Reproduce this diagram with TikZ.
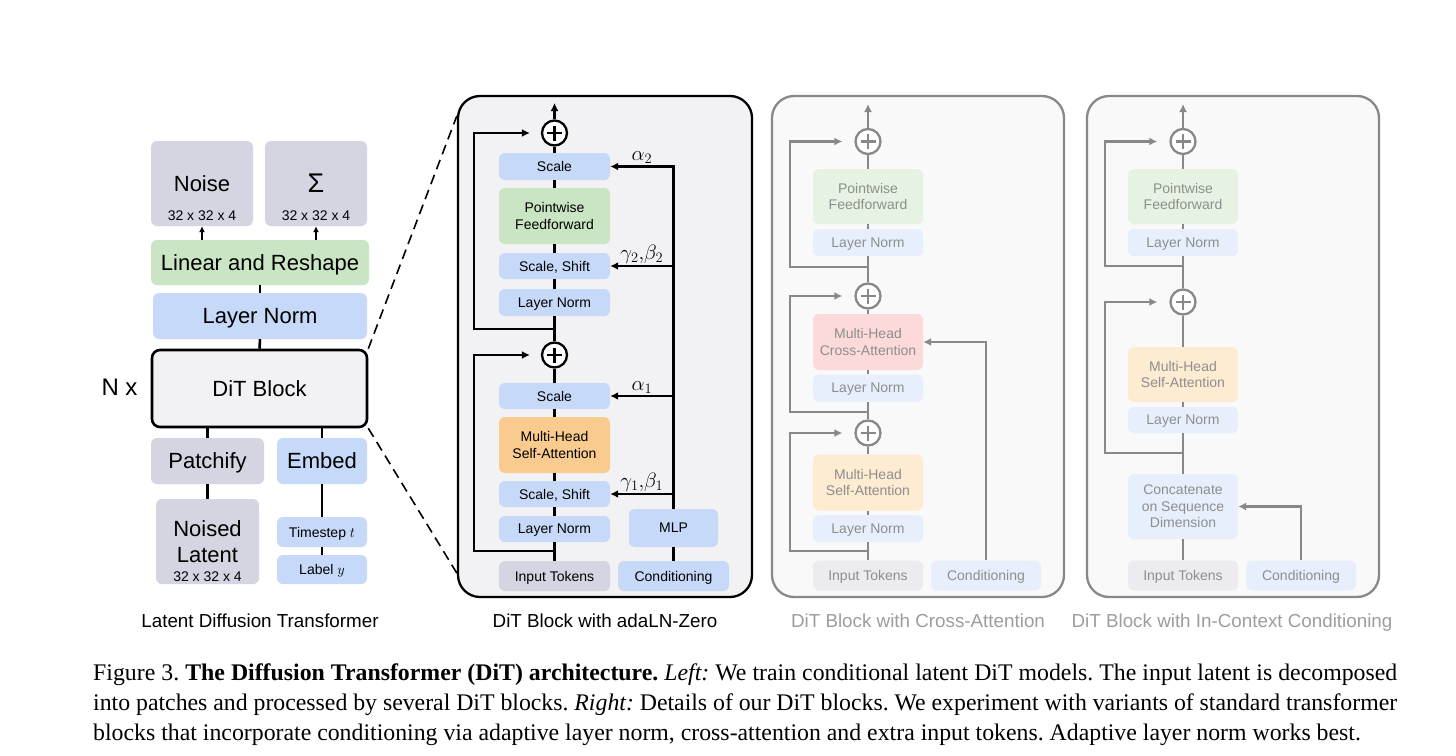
\documentclass[tikz,border=0pt]{standalone}
\usepackage{fontspec}
\usetikzlibrary{arrows.meta,calc}
\newfontfamily\arial{Liberation Sans}
\newfontfamily\capfont{Liberation Serif}

\definecolor{ditblue}{HTML}{C6D9F8}
\definecolor{ditgreen}{HTML}{C9E5C3}
\definecolor{ditgray}{HTML}{D4D5E0}
\definecolor{ditorange}{HTML}{F9CB8F}
\definecolor{panelfill}{HTML}{F2F2F4}
\definecolor{fadeblue}{HTML}{E7EFFC}
\definecolor{fadegreen}{HTML}{E6F3E2}
\definecolor{fadered}{HTML}{FCDADA}
\definecolor{fadeorange}{HTML}{FDEBD2}
\definecolor{fadegray}{HTML}{ECECF0}
\definecolor{fadefill}{HTML}{F9F9F9}
\definecolor{lineg}{HTML}{888888}
\definecolor{textg}{HTML}{8E8E8E}
\definecolor{titleg}{HTML}{9D9D9D}

\tikzset{
  blk/.style 2 args={rounded corners=6pt, inner sep=0pt, align=center,
    minimum width=#1pt, minimum height=#2pt, text depth=0pt,
    font=\arial\fontsize{14}{16.5}\selectfont},
  bigtext/.style={font=\arial\fontsize{22}{26}\selectfont},
  dimtext/.style={font=\arial\fontsize{14}{16}\selectfont, inner sep=0pt},
  faded/.style={text=textg},
  ttl/.style={font=\arial\fontsize{18.8}{22}\selectfont, inner sep=0pt, text depth=0pt},
  gk/.style={font=\fontsize{22}{24}\selectfont, inner sep=1.5pt},
  wire/.style={line width=2.6pt},
  arr/.style={line width=2.6pt, -{Latex[length=8pt,width=8pt]}},
  sarr/.style={line width=2pt, -{Latex[length=6pt,width=6pt]}},
  gwire/.style={wire, draw=lineg},
  garr/.style={arr, draw=lineg},
  adder/.style={circle, draw=#1, line width=2.3pt, fill=white, minimum size=25pt, inner sep=0pt,
    path picture={\draw[#1, line width=2.3pt]
      ([xshift=-7.5pt]path picture bounding box.center) -- ([xshift=7.5pt]path picture bounding box.center)
      ([yshift=-7.5pt]path picture bounding box.center) -- ([yshift=7.5pt]path picture bounding box.center);}}
}

\begin{document}
\begin{tikzpicture}[x=1pt, y=-1pt]
  \path[use as bounding box, fill=white] (0,0) rectangle (1456,755);

  %latent diffusion transformer
  \node[blk={102}{85}, fill=ditgray, bigtext] (noise) at (202,183.5) {Noise};
  \node[dimtext] (noisedim) at ([yshift=11pt]noise.south) {32 x 32 x 4};
  \node[blk={102}{85}, fill=ditgray, font=\arial\fontsize{27}{28}\selectfont] (sigma) at (316,183.5) {Σ};
  \node[dimtext] (sigmadim) at ([yshift=11pt]sigma.south) {32 x 32 x 4};
  \node[blk={218}{45}, fill=ditgreen, bigtext] (linres) at (260,262.5) {Linear and Reshape};
  \node[blk={214}{46}, fill=ditblue, bigtext] (lnorm) at (260,316) {Layer Norm};
  \node[blk={215}{77}, fill=panelfill, draw, line width=2.6pt, rounded corners=8pt, bigtext] (ditblk) at (259.5,388.5) {DiT Block};
  \node[font=\arial\fontsize{24}{26}\selectfont] (nx) at (119.5,387) {N x};
  \node[blk={113}{46}, fill=ditgray, bigtext] (patch) at (207.5,461) {Patchify};
  \node[blk={90}{46}, fill=ditblue, bigtext] (embed) at (322,461) {Embed};
  \node[blk={103}{85}, fill=ditgray, bigtext] (nlat) at (207.5,541.5) {Noised\\Latent};
  \node[dimtext] (nlatdim) at ([yshift=8pt]nlat.south) {32 x 32 x 4};
  \node[blk={90}{30}, fill=ditblue] (tstep) at (322,532) {Timestep $t$};
  \node[blk={90}{29}, fill=ditblue] (lbl) at (322,569.5) {Label $y$};
  \node[ttl] (ttlL) at (260,621) {Latent Diffusion Transformer};

  \draw[sarr] (noise.south |- linres.north) -- (noise.south);
  \draw[sarr] (sigma.south |- linres.north) -- (sigma.south);
  \draw[wire] (linres.south) -- (lnorm.north);
  \draw[wire] (lnorm.south) -- (ditblk.north);
  \draw[wire] (patch.north |- ditblk.south) -- (patch.north);
  \draw[wire] (embed.north |- ditblk.south) -- (embed.north);
  \draw[wire] (patch.south) -- (nlat.north);
  \draw[wire] (embed.south) -- (tstep.north);
  \draw[wire] (tstep.south) -- (lbl.north);

  %adaLN-Zero block
  \node[blk={294}{501}, fill=panelfill, draw, line width=2.3pt, rounded corners=22pt] (pA) at (605,346.5) {};
  \draw[line width=1.6pt, dash pattern=on 10pt off 6pt] (ditblk.north east) -- ([yshift=-21pt]pA.north west);
  \draw[line width=1.6pt, dash pattern=on 10pt off 6pt] (ditblk.south east) -- ([yshift=25pt]pA.south west);

  \node[adder=black] (plusA2) at (554.5,133) {};
  \node[blk={111}{27}, fill=ditblue] (scaleA2) at (554.5,166.5) {Scale};
  \node[blk={111}{56}, fill=ditgreen] (pffA) at (554.5,216) {Pointwise\\Feedforward};
  \node[blk={111}{26}, fill=ditblue] (ssA2) at (554.5,266) {Scale, Shift};
  \node[blk={111}{27}, fill=ditblue] (lnA2) at (554.5,302.5) {Layer Norm};
  \node[adder=black] (plusA1) at (554.5,355) {};
  \node[blk={111}{26}, fill=ditblue] (scaleA1) at (554.5,396) {Scale};
  \node[blk={111}{56}, fill=ditorange] (mhsaA) at (554.5,445) {Multi-Head\\Self-Attention};
  \node[blk={111}{26}, fill=ditblue] (ssA1) at (554.5,494) {Scale, Shift};
  \node[blk={111}{26}, fill=ditblue] (lnA1) at (554.5,529) {Layer Norm};
  \node[blk={111}{30}, fill=ditgray] (inA) at (554.5,576) {Input Tokens};
  \node[blk={89}{38}, fill=ditblue] (mlpA) at (673.5,528) {MLP};
  \node[blk={111}{30}, fill=ditblue] (condA) at (673.5,576) {Conditioning};
  \node[ttl] (ttlA) at (605,621) {DiT Block with adaLN-Zero};
  \coordinate (outA) at (554.5,103);
  \coordinate (skA1) at (474,551);
  \coordinate (skA2) at (474,329);

  \draw[wire] (inA.north) -- (lnA1.south);
  \draw[wire] (lnA1.north) -- (ssA1.south);
  \draw[wire] (ssA1.north) -- (mhsaA.south);
  \draw[wire] (mhsaA.north) -- (scaleA1.south);
  \draw[wire] (scaleA1.north) -- (plusA1.south);
  \draw[wire] (plusA1.north) -- (lnA2.south);
  \draw[wire] (lnA2.north) -- (ssA2.south);
  \draw[wire] (ssA2.north) -- (pffA.south);
  \draw[wire] (pffA.north) -- (scaleA2.south);
  \draw[wire] (scaleA2.north) -- (plusA2.south);
  \draw[arr] (plusA2.north) -- (outA);
  \draw[arr] (inA.north |- skA1) -- (skA1) |- ([xshift=-11pt]plusA1.west);
  \draw[arr] (plusA1.north |- skA2) -- (skA2) |- ([xshift=-11pt]plusA2.west);

  %conditioning path
  \draw[wire] (condA.north) -- (mlpA.south);
  \draw[arr] (mlpA.north) |- node[gk, above, pos=0.75] {$\alpha_2$} (scaleA2.east);
  \draw[arr] (mlpA.north |- ssA2.east) -- node[gk, above] {$\gamma_2{,}\beta_2$} (ssA2.east);
  \draw[arr] (mlpA.north |- scaleA1.east) -- node[gk, above] {$\alpha_1$} (scaleA1.east);
  \draw[arr] (mlpA.north |- ssA1.east) -- node[gk, above] {$\gamma_1{,}\beta_1$} (ssA1.east);

  %cross-attention block
  \node[blk={292}{501}, fill=fadefill, draw=lineg, line width=2.3pt, rounded corners=22pt] (pB) at (918,346.5) {};
  \node[adder=lineg] (plusB3) at (868,141.5) {};
  \node[blk={110}{55}, fill=fadegreen, faded] (pffB) at (868,196.5) {Pointwise\\Feedforward};
  \node[blk={110}{27}, fill=fadeblue, faded] (lnB3) at (868,242.5) {Layer Norm};
  \node[adder=lineg] (plusB2) at (868,296) {};
  \node[blk={110}{56}, fill=fadered, faded] (mhcaB) at (868,342) {Multi-Head\\Cross-Attention};
  \node[blk={110}{27}, fill=fadeblue, faded] (lnB2) at (868,388) {Layer Norm};
  \node[adder=lineg] (plusB1) at (868,433) {};
  \node[blk={110}{56}, fill=fadeorange, faded] (mhsaB) at (868,482.5) {Multi-Head\\Self-Attention};
  \node[blk={110}{27}, fill=fadeblue, faded] (lnB1) at (868,528.5) {Layer Norm};
  \node[blk={110}{30}, fill=fadegray, faded] (inB) at (868,575.5) {Input Tokens};
  \node[blk={110}{30}, fill=fadeblue, faded] (condB) at (986,575.5) {Conditioning};
  \node[ttl, text=titleg] (ttlB) at (918,621) {DiT Block with Cross-Attention};
  \coordinate (outB) at (868,104);
  \coordinate (skB1) at (790,551);
  \coordinate (skB2) at (790,412);
  \coordinate (skB3) at (790,267);

  \draw[gwire] (inB.north) -- (lnB1.south);
  \draw[gwire] (lnB1.north) -- (mhsaB.south);
  \draw[gwire] (mhsaB.north) -- (plusB1.south);
  \draw[gwire] (plusB1.north) -- (lnB2.south);
  \draw[gwire] (lnB2.north) -- (mhcaB.south);
  \draw[gwire] (mhcaB.north) -- (plusB2.south);
  \draw[gwire] (plusB2.north) -- (lnB3.south);
  \draw[gwire] (lnB3.north) -- (pffB.south);
  \draw[gwire] (pffB.north) -- (plusB3.south);
  \draw[garr] (plusB3.north) -- (outB);
  \draw[garr] (inB.north |- skB1) -- (skB1) |- ([xshift=-12pt]plusB1.west);
  \draw[garr] (plusB1.north |- skB2) -- (skB2) |- ([xshift=-12pt]plusB2.west);
  \draw[garr] (plusB2.north |- skB3) -- (skB3) |- ([xshift=-12pt]plusB3.west);
  \draw[garr] (condB.north) |- (mhcaB.east);

  %in-context conditioning block
  \node[blk={292}{501}, fill=fadefill, draw=lineg, line width=2.3pt, rounded corners=22pt] (pC) at (1233,346.5) {};
  \node[adder=lineg] (plusC2) at (1183,141.5) {};
  \node[blk={110}{55}, fill=fadegreen, faded] (pffC) at (1183,196.5) {Pointwise\\Feedforward};
  \node[blk={110}{27}, fill=fadeblue, faded] (lnC2) at (1183,242.5) {Layer Norm};
  \node[adder=lineg] (plusC1) at (1183,302) {};
  \node[blk={110}{55}, fill=fadeorange, faded] (mhsaC) at (1183,374.5) {Multi-Head\\Self-Attention};
  \node[blk={110}{26}, fill=fadeblue, faded] (lnC1) at (1183,420) {Layer Norm};
  \node[blk={110}{65}, fill=fadeblue, faded] (concC) at (1183,506.5) {Concatenate\\on Sequence\\Dimension};
  \node[blk={110}{30}, fill=fadegray, faded] (inC) at (1183,575.5) {Input Tokens};
  \node[blk={110}{30}, fill=fadeblue, faded] (condC) at (1301,575.5) {Conditioning};
  \node[ttl, text=titleg] (ttlC) at (1232,621) {DiT Block with In-Context Conditioning};
  \coordinate (outC) at (1183,104);
  \coordinate (skC1) at (1105,453);
  \coordinate (skC2) at (1105,266);

  \draw[gwire] (inC.north) -- (concC.south);
  \draw[gwire] (concC.north) -- (lnC1.south);
  \draw[gwire] (lnC1.north) -- (mhsaC.south);
  \draw[gwire] (mhsaC.north) -- (plusC1.south);
  \draw[gwire] (plusC1.north) -- (lnC2.south);
  \draw[gwire] (lnC2.north) -- (pffC.south);
  \draw[gwire] (pffC.north) -- (plusC2.south);
  \draw[garr] (plusC2.north) -- (outC);
  \draw[garr] (concC.north |- skC1) -- (skC1) |- ([xshift=-12pt]plusC1.west);
  \draw[garr] (plusC1.north |- skC2) -- (skC2) |- ([xshift=-12pt]plusC2.west);
  \draw[garr] (condC.north) |- (concC.east);

  %caption
  \node[anchor=base west, inner sep=0pt, font=\capfont\fontsize{23.8}{28}\selectfont\frenchspacing] (capA) at (93,680)
    {\makebox[1304pt][s]{Figure 3. \textbf{The Diffusion Transformer (DiT) architecture.} \textit{Left:} We train conditional latent DiT models. The input latent is decomposed}};
  \node[anchor=base west, inner sep=0pt, font=\capfont\fontsize{23.8}{28}\selectfont\frenchspacing] (capB) at (93,710)
    {\makebox[1304pt][s]{into patches and processed by several DiT blocks. \textit{Right:} Details of our DiT blocks. We experiment with variants of standard transformer}};
  \node[anchor=base west, inner sep=0pt, font=\capfont\fontsize{23.8}{28}\selectfont\frenchspacing] (capC) at (93,740)
    {blocks that incorporate conditioning via adaptive layer norm, cross-attention and extra input tokens. Adaptive layer norm works best.};
\end{tikzpicture}
\end{document}
